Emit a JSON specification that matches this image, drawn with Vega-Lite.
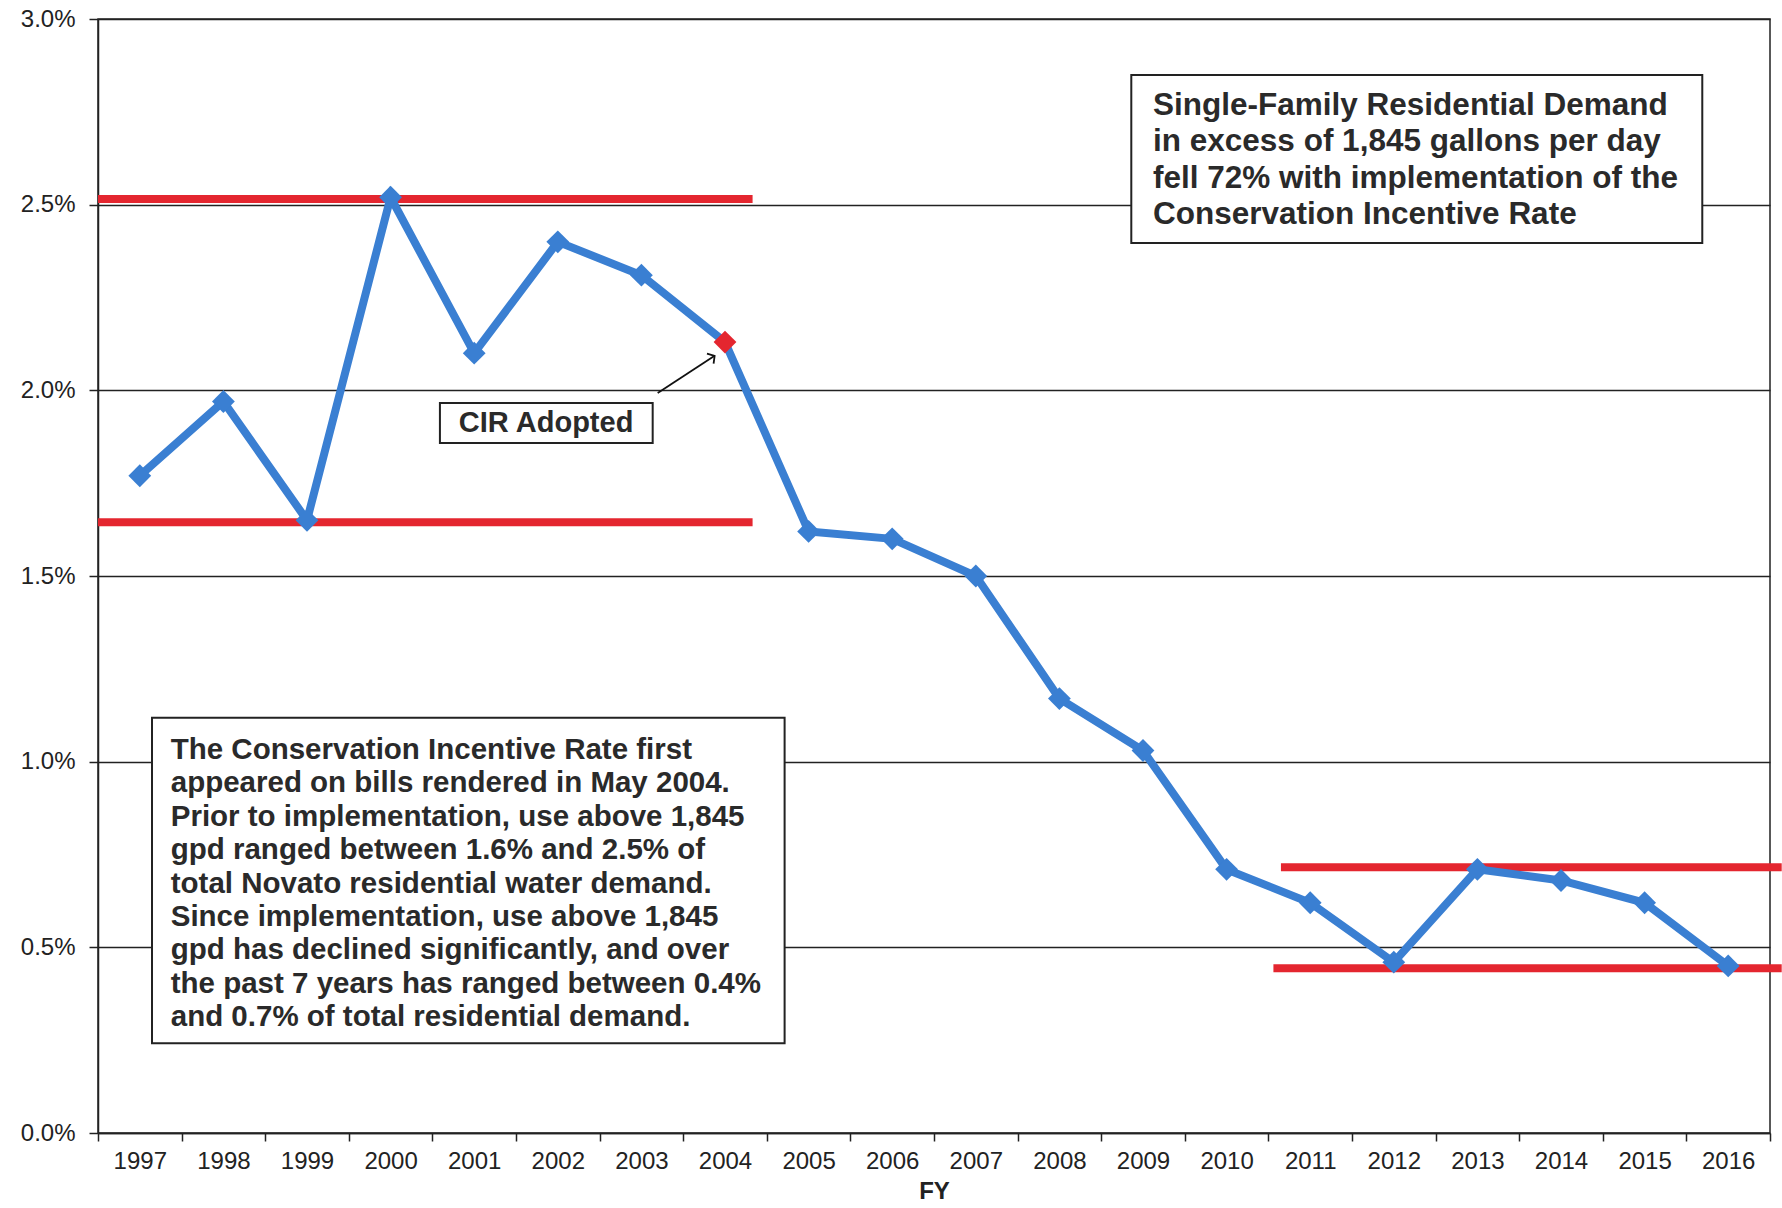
{
  "$schema": "https://vega.github.io/schema/vega-lite/v6.json",
  "autosize": {"type": "none"},
  "padding": {"left": 98, "top": 19, "right": 12, "bottom": 75},
  "width": 1672,
  "height": 1114,
  "background": "white",
  "config": {
    "font": "Liberation Sans",
    "view": {"stroke": "#222", "strokeWidth": 1.5},
    "axis": {"labelFont": "Liberation Sans", "titleFont": "Liberation Sans", "labelColor": "#222", "titleColor": "#222", "domainColor": "#222", "tickColor": "#222"}
  },
  "datasets": {
    "series": [
      {"FY": 1997, "share": 1.77},
      {"FY": 1998, "share": 1.97},
      {"FY": 1999, "share": 1.65},
      {"FY": 2000, "share": 2.52},
      {"FY": 2001, "share": 2.10},
      {"FY": 2002, "share": 2.40},
      {"FY": 2003, "share": 2.31},
      {"FY": 2004, "share": 2.13},
      {"FY": 2005, "share": 1.62},
      {"FY": 2006, "share": 1.60},
      {"FY": 2007, "share": 1.50},
      {"FY": 2008, "share": 1.17},
      {"FY": 2009, "share": 1.03},
      {"FY": 2010, "share": 0.71},
      {"FY": 2011, "share": 0.62},
      {"FY": 2012, "share": 0.46},
      {"FY": 2013, "share": 0.71},
      {"FY": 2014, "share": 0.68},
      {"FY": 2015, "share": 0.62},
      {"FY": 2016, "share": 0.45}
    ],
    "ranges": [
      {"from": 1996.5, "to": 2004.33, "level": 2.515},
      {"from": 1996.5, "to": 2004.33, "level": 1.645},
      {"from": 2010.65, "to": 2016.64, "level": 0.716},
      {"from": 2010.56, "to": 2016.64, "level": 0.444}
    ],
    "one": [{}]
  },
  "layer": [
    {
      "mark": {"type": "rule", "clip": false, "color": "#e4262f", "strokeWidth": 8},
      "data": {"name": "ranges"},
      "encoding": {
        "x": {"field": "from", "type": "quantitative",
              "scale": {"domain": [1996.5, 2016.5], "nice": false, "zero": false},
              "axis": {"values": [1996.5, 1997.5, 1998.5, 1999.5, 2000.5, 2001.5, 2002.5, 2003.5, 2004.5, 2005.5, 2006.5, 2007.5, 2008.5, 2009.5, 2010.5, 2011.5, 2012.5, 2013.5, 2014.5, 2015.5, 2016.5],
                       "labelExpr": "datum.value > 2016 ? '' : format(datum.value + 0.5, 'd')",
                       "labelOffset": 41.8, "labelFontSize": 24, "labelPadding": 8, "tickSize": 8, "tickWidth": 1.5,
                       "domainWidth": 1.5, "grid": false, "title": "FY", "titleFontSize": 24, "titleFontWeight": "bold", "titlePadding": 6, "labelFlush": false, "labelOverlap": false, "labelBound": false}},
        "x2": {"field": "to"},
        "y": {"field": "level", "type": "quantitative",
              "scale": {"domain": [0, 3], "nice": false},
              "axis": {"values": [0, 0.5, 1, 1.5, 2, 2.5, 3], "labelExpr": "format(datum.value, '.1f') + '%'",
                       "labelFontSize": 24, "labelPadding": 14, "tickSize": 9, "tickWidth": 1.5, "domainWidth": 1.5,
                       "grid": true, "gridColor": "#222", "gridWidth": 1.3, "gridOpacity": 1, "title": null}}
      }
    },
    {
      "mark": {"type": "line", "color": "#3a7fd2", "strokeWidth": 8},
      "data": {"name": "series"},
      "encoding": {
        "x": {"field": "FY", "type": "quantitative"},
        "y": {"field": "share", "type": "quantitative"}
      }
    },
    {
      "mark": {"type": "point", "shape": "diamond", "filled": true, "size": 520, "opacity": 1},
      "data": {"name": "series"},
      "encoding": {
        "x": {"field": "FY", "type": "quantitative"},
        "y": {"field": "share", "type": "quantitative"},
        "color": {"condition": {"test": "datum.FY === 2004", "value": "#e4262f"}, "value": "#3a7fd2"}
      }
    },
    {
      "mark": {"type": "rect", "fill": "white", "stroke": "#222", "strokeWidth": 2},
      "data": {"name": "one"},
      "encoding": {
        "x": {"datum": 2008.86}, "x2": {"datum": 2015.69},
        "y": {"datum": 2.849}, "y2": {"datum": 2.397}
      }
    },
    {
      "mark": {"type": "text", "align": "left", "baseline": "middle", "fontSize": 31.5, "fontWeight": "bold", "color": "#2a2a2a", "lineHeight": 36.5,
               "text": ["Single-Family Residential Demand", "in excess of 1,845 gallons per day", "fell 72% with implementation of the", "Conservation Incentive Rate"]},
      "data": {"name": "one"},
      "encoding": {"x": {"datum": 2009.12}, "y": {"datum": 2.766}}
    },
    {
      "mark": {"type": "rect", "fill": "white", "stroke": "#222", "strokeWidth": 2},
      "data": {"name": "one"},
      "encoding": {
        "x": {"datum": 1997.146}, "x2": {"datum": 2004.713},
        "y": {"datum": 1.118}, "y2": {"datum": 0.242}
      }
    },
    {
      "mark": {"type": "text", "align": "left", "baseline": "middle", "fontSize": 29.5, "fontWeight": "bold", "color": "#2a2a2a", "lineHeight": 33.4,
               "text": ["The Conservation Incentive Rate first", "appeared on bills rendered in May 2004.", "Prior to implementation, use above 1,845", "gpd ranged between 1.6% and 2.5% of", "total Novato residential water demand.", "Since implementation, use above 1,845", "gpd has declined significantly, and over", "the past 7 years has ranged between 0.4%", "and 0.7% of total residential demand."]},
      "data": {"name": "one"},
      "encoding": {"x": {"datum": 1997.37}, "y": {"datum": 1.0315}}
    },
    {
      "mark": {"type": "rect", "fill": "white", "stroke": "#222", "strokeWidth": 2},
      "data": {"name": "one"},
      "encoding": {
        "x": {"datum": 2000.59}, "x2": {"datum": 2003.135},
        "y": {"datum": 1.966}, "y2": {"datum": 1.858}
      }
    },
    {
      "mark": {"type": "text", "align": "center", "baseline": "middle", "fontSize": 29, "fontWeight": "bold", "color": "#2a2a2a", "text": "CIR Adopted"},
      "data": {"name": "one"},
      "encoding": {"x": {"datum": 2001.86}, "y": {"datum": 1.912}}
    },
    {
      "mark": {"type": "rule", "color": "#111", "strokeWidth": 1.8},
      "data": {"name": "one"},
      "encoding": {
        "x": {"datum": 2003.195}, "x2": {"datum": 2003.876},
        "y": {"datum": 1.993}, "y2": {"datum": 2.093}
      }
    },
    {
      "mark": {"type": "point", "shape": "M -0.7 0.6 L 0 0 L 0.7 0.6", "filled": false, "stroke": "#111", "strokeWidth": 1.8, "size": 300, "angle": 57, "opacity": 1},
      "data": {"name": "one"},
      "encoding": {"x": {"datum": 2003.876}, "y": {"datum": 2.093}}
    }
  ]
}
